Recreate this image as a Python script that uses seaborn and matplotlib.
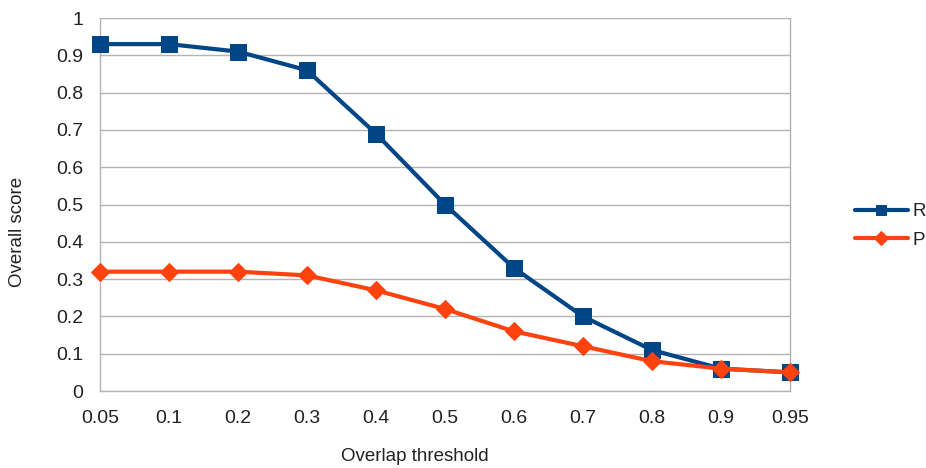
import numpy as np
import pandas as pd
import matplotlib
matplotlib.use("Agg")
import matplotlib.pyplot as plt
import seaborn as sns

# === DATA ===
thresholds = ["0.05", "0.1", "0.2", "0.3", "0.4", "0.5", "0.6", "0.7", "0.8", "0.9", "0.95"]
r_values = [0.93, 0.93, 0.91, 0.86, 0.69, 0.50, 0.33, 0.20, 0.11, 0.06, 0.05]
p_values = [0.32, 0.32, 0.32, 0.31, 0.27, 0.22, 0.16, 0.12, 0.08, 0.06, 0.05]
y_ticklabels = ["0", "0.1", "0.2", "0.3", "0.4", "0.5", "0.6", "0.7", "0.8", "0.9", "1"]
series_names = ["R", "P"]
colors = {"R": "#004586", "P": "#ff420e"}
markers = {"R": "s", "P": "D"}
marker_sizes = {"R": 11.5, "P": 9}

pos = list(range(len(thresholds)))
df = pd.concat([
    pd.DataFrame({"pos": pos, "score": r_values, "series": "R"}),
    pd.DataFrame({"pos": pos, "score": p_values, "series": "P"}),
], ignore_index=True)

# === STYLE ===
sns.set_theme(style="white")
plt.rcParams["font.family"] = ["Liberation Sans", "DejaVu Sans"]

fig = plt.figure(figsize=(9.26, 4.68), dpi=100)
ax = fig.add_axes([0.108, 0.1645, 0.745, 0.797])

grid_col = "#b3b3b3"
text_col = "#222222"
for name in series_names:
    sub = df[df["series"] == name]
    sns.lineplot(data=sub, x="pos", y="score", color=colors[name], marker=markers[name],
                 markersize=marker_sizes[name], linewidth=3, markeredgecolor=colors[name],
                 label=name, ax=ax, clip_on=False, zorder=3)

ax.set_xlim(0, len(thresholds) - 1)
ax.set_ylim(0, 1)
ax.set_xticks(pos)
ax.set_xticklabels(thresholds)
ax.set_yticks(np.linspace(0, 1, 11))
ax.set_yticklabels(y_ticklabels)
ax.tick_params(axis="both", labelsize=14, colors=grid_col, labelcolor=text_col,
               length=7, width=1, direction="out")
ax.tick_params(axis="y", pad=5)
ax.tick_params(axis="x", pad=7)
ax.yaxis.grid(True, color=grid_col, linewidth=1)
ax.xaxis.grid(False)
for side in ["left", "bottom", "right"]:
    ax.spines[side].set_color(grid_col)
    ax.spines[side].set_linewidth(1)
ax.spines["top"].set_visible(False)

# axis titles, placed where the original chart has them
ax.set_xlabel("Overlap threshold", fontsize=13.5, color=text_col)
ax.set_ylabel("Overall score", fontsize=13.5, color=text_col)
ax.xaxis.label.set_va("center")
ax.yaxis.label.set_va("center")
ax.xaxis.set_label_coords(0.4565, -0.1756)
ax.yaxis.set_label_coords(-0.119, 0.426)

leg = ax.legend(loc="center left", bbox_to_anchor=(855 / 926, 1 - 226 / 468),
                bbox_transform=fig.transFigure, frameon=False, fontsize=13.5,
                handlelength=2.8, handletextpad=0.25, labelspacing=0.6,
                borderpad=0, borderaxespad=0)
for h in leg.legend_handles:
    h.set_markersize(7)
for t in leg.get_texts():
    t.set_color(text_col)

fig.savefig("out.png", dpi=100)
